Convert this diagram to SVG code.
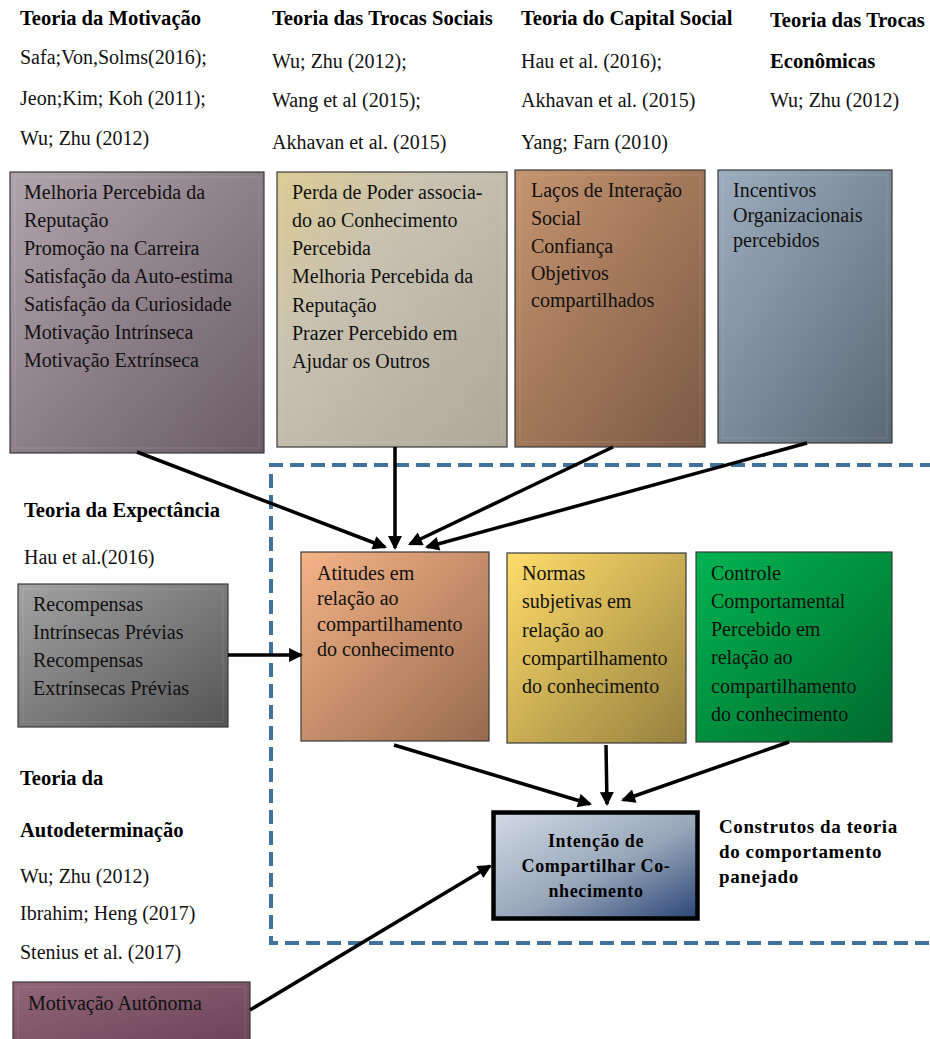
<svg xmlns="http://www.w3.org/2000/svg" width="930" height="1039" viewBox="0 0 930 1039">
  <style>
    text { font-family: "Liberation Serif", "Times New Roman", serif; font-size: 20px; fill: #111; }
    .h { font-weight: bold; font-size: 20.6px; fill: #000; }
    .box { stroke: #3a3a3a; stroke-width: 1.2; }
    .bevel { fill: none; stroke: #ffffff; stroke-opacity: 0.12; stroke-width: 1; }
    .conn { stroke: #000; stroke-width: 3.5; fill: none; marker-end: url(#ah); }
    .tpb { fill: none; stroke: #41719c; stroke-width: 4; stroke-dasharray: 14 7; }
    .title { font-weight: bold; font-size: 18px; letter-spacing: 0.6px; fill: #000; }
    .note { font-weight: bold; font-size: 19px; letter-spacing: 0.6px; fill: #000; }
  </style>
  <defs>
    <marker id="ah" viewBox="0 0 10 10" refX="8.5" refY="5" markerWidth="16" markerHeight="14" markerUnits="userSpaceOnUse" orient="auto">
      <path d="M0,0 L10,5 L0,10 z" fill="#000"/>
    </marker>
    <linearGradient id="gMot" x1="0" y1="0" x2="1" y2="1">
      <stop offset="0" stop-color="#b1a4ac"/><stop offset="1" stop-color="#6a5b65"/>
    </linearGradient>
    <linearGradient id="gSoc" x1="0" y1="0" x2="1" y2="1">
      <stop offset="0" stop-color="#dccb93"/><stop offset="0.35" stop-color="#c9c2b1"/><stop offset="1" stop-color="#aea89b"/>
    </linearGradient>
    <linearGradient id="gCap" x1="0" y1="0" x2="1" y2="1">
      <stop offset="0" stop-color="#c6946f"/><stop offset="1" stop-color="#7a5943"/>
    </linearGradient>
    <linearGradient id="gEco" x1="0" y1="0" x2="1" y2="1">
      <stop offset="0" stop-color="#9cadbf"/><stop offset="1" stop-color="#5b6975"/>
    </linearGradient>
    <linearGradient id="gRec" x1="0" y1="0" x2="1" y2="1">
      <stop offset="0" stop-color="#a3a3a3"/><stop offset="1" stop-color="#545454"/>
    </linearGradient>
    <linearGradient id="gAut" x1="0" y1="0" x2="1" y2="1">
      <stop offset="0" stop-color="#926678"/><stop offset="1" stop-color="#694155"/>
    </linearGradient>
    <linearGradient id="gAtt" x1="0" y1="0" x2="1" y2="1">
      <stop offset="0" stop-color="#f5b386"/><stop offset="1" stop-color="#976a4e"/>
    </linearGradient>
    <linearGradient id="gNor" x1="0" y1="0" x2="1" y2="1">
      <stop offset="0" stop-color="#ffdd6a"/><stop offset="1" stop-color="#96803e"/>
    </linearGradient>
    <linearGradient id="gCon" x1="0" y1="0" x2="1" y2="1">
      <stop offset="0" stop-color="#00b450"/><stop offset="1" stop-color="#006a2e"/>
    </linearGradient>
    <linearGradient id="gInt" x1="0" y1="0" x2="1" y2="1">
      <stop offset="0" stop-color="#d2dbe5"/><stop offset="0.55" stop-color="#96a5b8"/><stop offset="1" stop-color="#2b4576"/>
    </linearGradient>
  </defs>

  <!-- theory headings and references -->
  <g id="theory-motivacao">
    <text class="h" x="20" y="25">Teoria da Motivação</text>
    <text x="20" y="64">Safa;Von,Solms(2016);</text>
    <text x="20" y="105">Jeon;Kim; Koh (2011);</text>
    <text x="20" y="145">Wu; Zhu (2012)</text>
  </g>
  <g id="theory-trocas-sociais">
    <text class="h" x="272" y="25">Teoria das Trocas Sociais</text>
    <text x="272" y="68">Wu; Zhu (2012);</text>
    <text x="272" y="107">Wang et al (2015);</text>
    <text x="272" y="149">Akhavan et al. (2015)</text>
  </g>
  <g id="theory-capital-social">
    <text class="h" x="521" y="25">Teoria do Capital Social</text>
    <text x="521" y="68">Hau et al. (2016);</text>
    <text x="521" y="107">Akhavan et al. (2015)</text>
    <text x="521" y="149">Yang; Farn (2010)</text>
  </g>
  <g id="theory-trocas-economicas">
    <text class="h" x="770" y="27">Teoria das Trocas</text>
    <text class="h" x="770" y="68">Econômicas</text>
    <text x="770" y="107">Wu; Zhu (2012)</text>
  </g>

  <!-- construct boxes of the top row -->
  <g id="box-motivacao">
    <rect class="box" x="10" y="172" width="254" height="281" fill="url(#gMot)"/>
    <rect class="bevel" x="15" y="177" width="244" height="271"/>
    <text x="24" y="199">Melhoria Percebida da</text>
    <text x="24" y="227">Reputação</text>
    <text x="24" y="255">Promoção na Carreira</text>
    <text x="24" y="283">Satisfação da Auto-estima</text>
    <text x="24" y="311">Satisfação da Curiosidade</text>
    <text x="24" y="339">Motivação Intrínseca</text>
    <text x="24" y="367">Motivação Extrínseca</text>
  </g>
  <g id="box-trocas-sociais">
    <rect class="box" x="277" y="172" width="230" height="275" fill="url(#gSoc)"/>
    <rect class="bevel" x="282" y="177" width="220" height="265"/>
    <text x="292" y="199">Perda de Poder associa-</text>
    <text x="292" y="227">do ao Conhecimento</text>
    <text x="292" y="255">Percebida</text>
    <text x="292" y="283">Melhoria Percebida da</text>
    <text x="292" y="312">Reputação</text>
    <text x="292" y="340">Prazer Percebido em</text>
    <text x="292" y="368">Ajudar os Outros</text>
  </g>
  <g id="box-capital-social">
    <rect class="box" x="515" y="170" width="190" height="277" fill="url(#gCap)"/>
    <rect class="bevel" x="520" y="175" width="180" height="267"/>
    <text x="531" y="197">Laços de Interação</text>
    <text x="531" y="225">Social</text>
    <text x="531" y="253">Confiança</text>
    <text x="531" y="280">Objetivos</text>
    <text x="531" y="307">compartilhados</text>
  </g>
  <g id="box-trocas-economicas">
    <rect class="box" x="718" y="170" width="174" height="273" fill="url(#gEco)"/>
    <rect class="bevel" x="723" y="175" width="164" height="263"/>
    <text x="733" y="197">Incentivos</text>
    <text x="733" y="222">Organizacionais</text>
    <text x="733" y="247">percebidos</text>
  </g>

  <!-- left column -->
  <g id="theory-expectancia">
    <text class="h" x="24" y="517">Teoria da Expectância</text>
    <text x="24" y="564">Hau et al.(2016)</text>
  </g>
  <g id="box-recompensas">
    <rect class="box" x="18" y="584" width="210" height="143" fill="url(#gRec)"/>
    <rect class="bevel" x="23" y="589" width="200" height="133"/>
    <text x="33" y="611">Recompensas</text>
    <text x="33" y="639">Intrínsecas Prévias</text>
    <text x="33" y="667">Recompensas</text>
    <text x="33" y="695">Extrínsecas Prévias</text>
  </g>
  <g id="theory-autodeterminacao">
    <text class="h" x="20" y="785">Teoria da</text>
    <text class="h" x="20" y="837">Autodeterminação</text>
    <text x="20" y="883">Wu; Zhu (2012)</text>
    <text x="20" y="920">Ibrahim; Heng (2017)</text>
    <text x="20" y="959">Stenius et al. (2017)</text>
  </g>
  <g id="box-motivacao-autonoma">
    <rect class="box" x="13" y="982" width="237" height="70" fill="url(#gAut)"/>
    <rect class="bevel" x="18" y="987" width="227" height="60"/>
    <text x="28" y="1010">Motivação Autônoma</text>
  </g>

  <!-- planned behaviour constructs, framed by a dashed outline -->
  <g id="tpb-frame">
    <path class="tpb" d="M934,465 H271 V943 H934"/>
    <text class="note" x="719" y="833">Construtos da teoria</text>
    <text class="note" x="719" y="858">do comportamento</text>
    <text class="note" x="719" y="883">panejado</text>
  </g>
  <g id="box-atitudes">
    <rect class="box" x="301" y="552" width="188" height="189" fill="url(#gAtt)"/>
    <text x="317" y="580">Atitudes em</text>
    <text x="317" y="605">relação ao</text>
    <text x="317" y="631">compartilhamento</text>
    <text x="317" y="656">do conhecimento</text>
  </g>
  <g id="box-normas">
    <rect class="box" x="507" y="553" width="179" height="190" fill="url(#gNor)"/>
    <text x="522" y="580">Normas</text>
    <text x="522" y="608">subjetivas em</text>
    <text x="522" y="637">relação ao</text>
    <text x="522" y="665">compartilhamento</text>
    <text x="522" y="693">do conhecimento</text>
  </g>
  <g id="box-controle">
    <rect class="box" x="696" y="552" width="196" height="190" fill="url(#gCon)"/>
    <text x="711" y="580">Controle</text>
    <text x="711" y="608">Comportamental</text>
    <text x="711" y="636">Percebido em</text>
    <text x="711" y="664">relação ao</text>
    <text x="711" y="693">compartilhamento</text>
    <text x="711" y="721">do conhecimento</text>
  </g>
  <g id="box-intencao">
    <rect x="493.5" y="812.5" width="204" height="106" fill="url(#gInt)" stroke="#000" stroke-width="4.5"/>
    <text class="title" x="596" y="847" text-anchor="middle">Intenção de</text>
    <text class="title" x="596" y="872" text-anchor="middle">Compartilhar Co-</text>
    <text class="title" x="596" y="897" text-anchor="middle">nhecimento</text>
  </g>

  <!-- connectors -->
  <g id="connectors">
    <line class="conn" x1="137" y1="452" x2="385" y2="547"/>
    <line class="conn" x1="395" y1="447" x2="395" y2="548"/>
    <line class="conn" x1="613" y1="447" x2="410" y2="544"/>
    <line class="conn" x1="807" y1="443" x2="427" y2="547"/>
    <line class="conn" x1="228" y1="655" x2="301" y2="655"/>
    <line class="conn" x1="394" y1="745" x2="590" y2="804"/>
    <line class="conn" x1="606" y1="745" x2="607" y2="804"/>
    <line class="conn" x1="789" y1="742" x2="623" y2="800"/>
    <line class="conn" x1="250" y1="1010" x2="490" y2="866"/>
  </g>
</svg>
